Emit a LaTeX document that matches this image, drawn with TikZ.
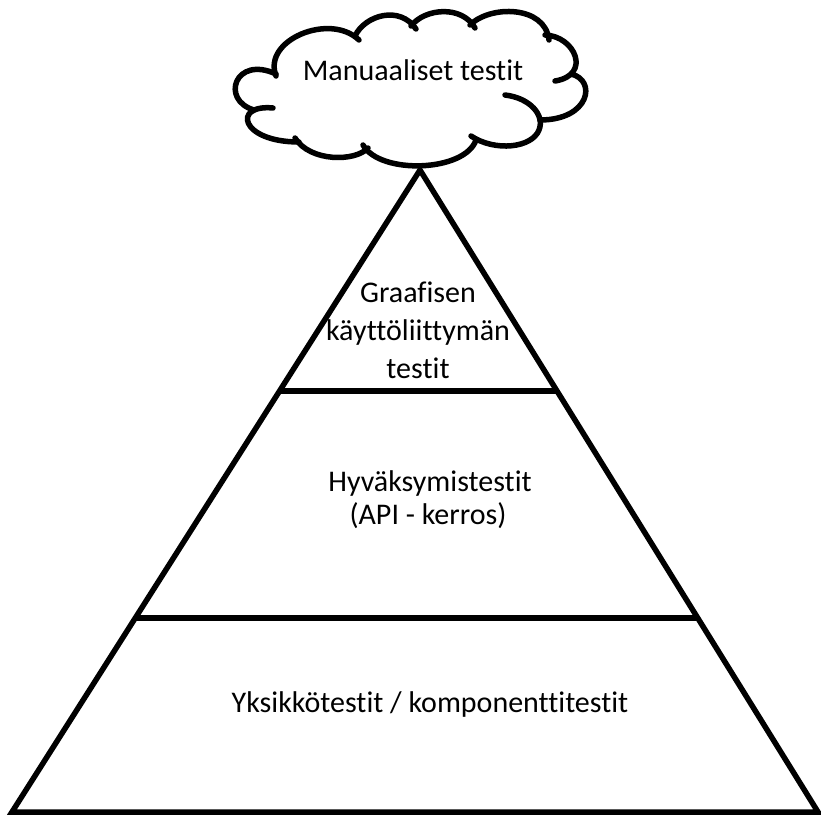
\documentclass[tikz,border=0pt]{standalone}
\usepackage{fontspec}
\setmainfont{Carlito}[Ligatures={NoCommon}]
\usetikzlibrary{calc}
\begin{document}
\begin{tikzpicture}[x=1pt,y=-1pt,
  edge/.style={line width=5.5pt},
  cloudline/.style={line width=5.5pt, line cap=round, line join=round},
  lbl/.style={font=\fontsize{30}{36}\selectfont, anchor=base, inner sep=0pt}]
\useasboundingbox[fill=white] (0,0) rectangle (821,816);
% pyramid
\coordinate (apex) at (420,170);
\coordinate (bl) at (12,812);
\coordinate (br) at (818,812);
\draw[edge] (apex) -- (bl) -- (br) -- cycle;
\draw[edge] ($(apex)!0.3442!(bl)$) -- ($(apex)!0.3442!(br)$);
\draw[edge] ($(apex)!0.6978!(bl)$) -- ($(apex)!0.6978!(br)$);
% cloud
\draw[cloudline] (276,76) .. controls (262,40) and (330,12) .. (359,40);
\draw[cloudline] (355,36) .. controls (365,15) and (400,5) .. (416,29);
\draw[cloudline] (411,26) .. controls (425,8) and (462,5) .. (475,28);
\draw[cloudline] (470,25) .. controls (490,5) and (545,5) .. (549,40);
\draw[cloudline] (545,35) .. controls (575,36) and (592,75) .. (555,81);
\draw[cloudline] (571,74) .. controls (597,80) and (590,120) .. (540,120);
\draw[cloudline] (505,95) .. controls (530,98) and (545,115) .. (539,130) .. controls (532,148) and (495,152) .. (471,136);
\draw[cloudline] (476,140) .. controls (465,172) and (380,175) .. (363,145);
\draw[cloudline] (368,148) .. controls (355,162) and (310,162) .. (295,138);
\draw[cloudline] (299,142) .. controls (240,142) and (232,104) .. (273,108);
\draw[cloudline] (254,110) .. controls (220,100) and (235,55) .. (276,74);
% labels
\node[lbl] (manual) at (413,80) {Manuaaliset testit};
\node[lbl] (gui1) at (418,302) {Graafisen};
\node[lbl] (gui2) at (418,340) {käyttöliittymän};
\node[lbl] (gui3) at (418,378) {testit};
\node[lbl] (acc1) at (430,491) {Hyväksymistestit};
\node[lbl] (acc2) at (428,524) {(API - kerros)};
\node[lbl] (unit) at (430,712) {Yksikkötestit / komponenttitestit};
\end{tikzpicture}
\end{document}
